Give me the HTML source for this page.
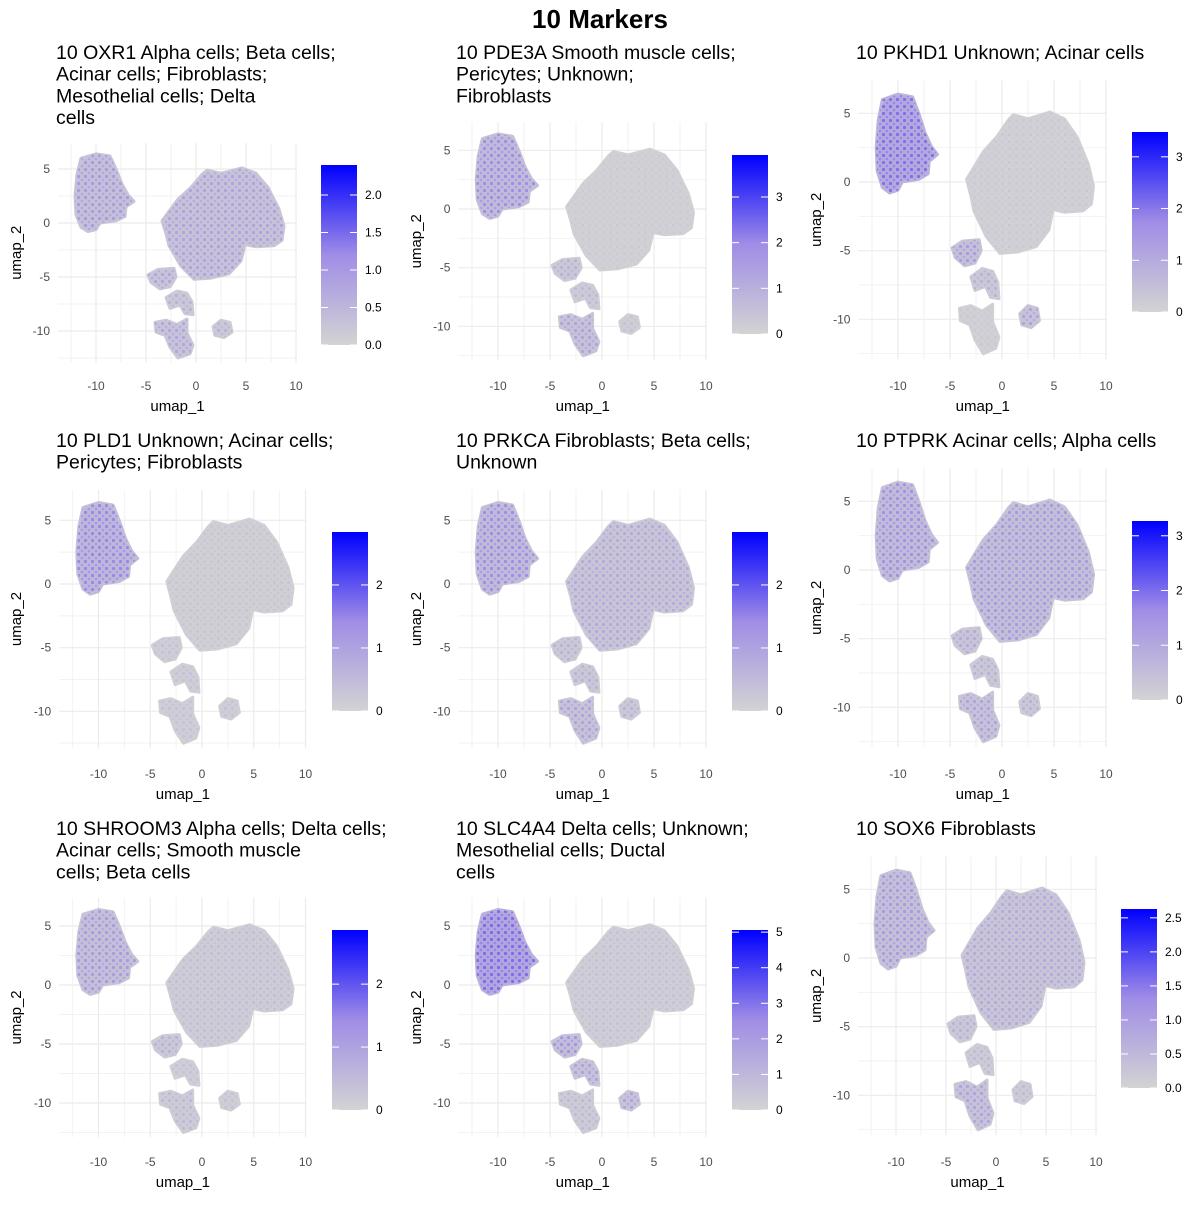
<!DOCTYPE html>
<html><head><meta charset="utf-8"><style>
body{margin:0;background:#fff}
text{font-family:"Liberation Sans",sans-serif}
</style></head><body>
<svg id="chart" width="1200" height="1200" viewBox="0 0 1200 1200" xmlns="http://www.w3.org/2000/svg">
<defs>
<linearGradient id="lg" x1="0" y1="1" x2="0" y2="0">
<stop offset="0" stop-color="#d3d3d3"/><stop offset="0.5" stop-color="#a08de6"/><stop offset="1" stop-color="#0000ff"/>
</linearGradient>
<pattern id="dots" width="7" height="7" patternUnits="userSpaceOnUse">
<circle cx="1.5" cy="1.5" r="1.6" fill="#7a60ee"/><circle cx="5" cy="5" r="1.3" fill="#9480e8"/>
</pattern>
</defs>
<text x="600" y="28" text-anchor="middle" font-size="26" font-weight="bold">10 Markers</text>
</svg>
<script>
// ---- data ----
const titles = [
 ["10 OXR1 Alpha cells; Beta cells;","Acinar cells; Fibroblasts;","Mesothelial cells; Delta","cells"],
 ["10 PDE3A Smooth muscle cells;","Pericytes; Unknown;","Fibroblasts"],
 ["10 PKHD1 Unknown; Acinar cells"],
 ["10 PLD1 Unknown; Acinar cells;","Pericytes; Fibroblasts"],
 ["10 PRKCA Fibroblasts; Beta cells;","Unknown"],
 ["10 PTPRK Acinar cells; Alpha cells"],
 ["10 SHROOM3 Alpha cells; Delta cells;","Acinar cells; Smooth muscle","cells; Beta cells"],
 ["10 SLC4A4 Delta cells; Unknown;","Mesothelial cells; Ductal","cells"],
 ["10 SOX6 Fibroblasts"]
];
const clusterNames = ["top-left","main","small-a","small-b","small-c","small-d"];
// expression (0..1 of colour scale) per panel per cluster
const expr = [
 [0.35,0.30,0.28,0.2,0.28,0.2],
 [0.45,0.05,0.2,0.15,0.3,0.1],
 [0.75,0.06,0.35,0.2,0.06,0.3],
 [0.5,0.08,0.1,0.1,0.1,0.1],
 [0.45,0.25,0.2,0.2,0.3,0.2],
 [0.42,0.36,0.25,0.2,0.3,0.2],
 [0.35,0.12,0.2,0.1,0.15,0.1],
 [0.8,0.1,0.4,0.3,0.15,0.3],
 [0.35,0.25,0.2,0.15,0.3,0.15]
];
const legMax = [2.4,3.92,3.48,2.84,2.84,3.27,2.86,5.06,2.63];
const legTicks = [[0,0.5,1,1.5,2],[0,1,2,3],[0,1,2,3],[0,1,2],[0,1,2],[0,1,2,3],[0,1,2],[0,1,2,3,4,5],[0,0.5,1,1.5,2,2.5]];
const legDec = [1,0,0,0,0,0,0,0,1];
const xTicks = [-10,-5,0,5,10];
const yTicks = [-10,-5,0,5];
// cluster outlines in UMAP coordinates
const topLeft = [[-11.5,6.0],[-10,6.4],[-8.6,6.2],[-8.0,5.0],[-7.4,3.6],[-6.8,2.6],[-6.2,2.0],[-7.0,1.5],[-7.1,0.6],[-8.0,0.2],[-9.6,0.0],[-10.0,-0.6],[-10.8,-0.8],[-11.5,-0.4],[-12.0,0.8],[-12.1,2.5],[-11.9,4.5]];
const mainC = [[-3.4,0.2],[-1.8,2.2],[-0.5,3.3],[0.6,4.5],[1.1,4.9],[2.5,4.6],[4.6,5.1],[6.0,4.6],[7.2,3.3],[8.3,1.3],[8.8,-0.3],[8.6,-1.6],[7.8,-2.1],[6.0,-2.2],[4.9,-2.0],[4.5,-3.5],[3.3,-4.7],[1.5,-5.1],[-0.2,-5.2],[-1.5,-4.0],[-2.7,-2.1],[-3.0,-1.0]];
const smallA = [[-4.8,-4.8],[-3.8,-4.3],[-2.2,-4.2],[-2.0,-5.0],[-2.6,-5.9],[-3.6,-6.1],[-4.5,-5.5]];
const smallB = [[-3.0,-6.9],[-1.9,-6.3],[-0.9,-6.5],[-0.4,-7.3],[-0.3,-8.5],[-1.1,-8.4],[-1.6,-7.6],[-2.6,-7.9]];
const smallC = [[-4.1,-9.2],[-3.0,-9.0],[-1.9,-9.4],[-0.9,-8.9],[-0.9,-10.2],[-0.3,-11.3],[-0.6,-12.1],[-1.8,-12.5],[-2.6,-11.5],[-3.1,-10.4],[-4.0,-10.1]];
const smallD = [[1.7,-9.6],[2.5,-9.0],[3.4,-9.2],[3.6,-10.1],[2.8,-10.6],[1.9,-10.4]];
const shapes = [topLeft,mainC,smallA,smallB,smallC,smallD];

// ---- layout (pixel positions, not data) ----
const layout = [
 {tx:56,ty:59,xm:96,x0:196,xp:296,y5:169,y0:223,ym:331,leg:[321,165,357,345],yl:16,lb:390},
 {tx:456,ty:59,xm:498,x0:602,xp:706,y5:151,y0:209,ym:327,leg:[732,155,768,334],yl:416,lb:390},
 {tx:856,ty:59,xm:898,x0:1002,xp:1106,y5:113,y0:182,ym:319,leg:[1132,132,1168,312],yl:816,lb:390},
 {tx:56,ty:447,xm:99,x0:202,xp:306,y5:520,y0:584,ym:711,leg:[332,532,368,711],yl:16,lb:778},
 {tx:456,ty:447,xm:498,x0:602,xp:706,y5:520,y0:584,ym:711,leg:[732,532,768,711],yl:416,lb:778},
 {tx:856,ty:447,xm:898,x0:1002,xp:1106,y5:501,y0:570,ym:707,leg:[1132,521,1168,700],yl:816,lb:778},
 {tx:56,ty:835,xm:99,x0:202,xp:306,y5:926,y0:985,ym:1103,leg:[332,930,368,1110],yl:16,lb:1166},
 {tx:456,ty:835,xm:498,x0:602,xp:706,y5:926,y0:985,ym:1103,leg:[732,930,768,1110],yl:416,lb:1166},
 {tx:856,ty:835,xm:896,x0:996,xp:1096,y5:889,y0:958,ym:1095,leg:[1121,909,1157,1088],yl:816,lb:1166}
];
const svg = document.getElementById('chart');
const NS = 'http://www.w3.org/2000/svg';
function mk(tag, attrs, parent){const e=document.createElementNS(NS,tag);for(const k in attrs)e.setAttribute(k,attrs[k]);(parent||svg).appendChild(e);return e;}
function lerp(a,b,t){return a+(b-a)*t;}
function col(t){
  const c0=[211,211,211],c1=[160,141,230],c2=[0,0,255];let r;
  if(t<0.5){const u=t/0.5;r=c0.map((v,i)=>lerp(v,c1[i],u));}else{const u=(t-0.5)/0.5;r=c1.map((v,i)=>lerp(v,c2[i],u));}
  return 'rgb('+r.map(Math.round).join(',')+')';
}
layout.forEach((L,p)=>{
  const g = mk('g',{});
  
  
  const kx=(L.xp-L.xm)/20, ky=(L.ym-L.y5)/15;
  const sx=u=>L.x0+u*kx, sy=v=>L.y0-v*ky;
  const X0=sx(-13.8),X1=sx(10.1),Y0=sy(7.4),Y1=sy(-12.9);
  const t = mk('text',{x:L.tx,y:L.ty,'font-size':19.5,fill:'#000'},g);
  
  
  titles[p].forEach((s,i)=>{const ts=mk('tspan',{x:L.tx,dy:i?21.7:0},t);ts.textContent=s;});
  for(let u=-12.5;u<=10;u+=5){mk('line',{x1:sx(u),x2:sx(u),y1:Y0,y2:Y1,stroke:'#f2f2f2','stroke-width':1},g);}
  for(let v=-12.5;v<=7.5;v+=5){if(sy(v)>=Y0&&sy(v)<=Y1)mk('line',{x1:X0,x2:X1,y1:sy(v),y2:sy(v),stroke:'#f2f2f2','stroke-width':1},g);}
  xTicks.forEach(u=>{
    mk('line',{x1:sx(u),x2:sx(u),y1:Y0,y2:Y1,stroke:'#ebebeb','stroke-width':1.2},g);
    const tl=mk('text',{x:sx(u),y:L.lb,'font-size':12,fill:'#4d4d4d','text-anchor':'middle'},g);
    
    
    tl.textContent=u;
  });
  yTicks.forEach(v=>{
    mk('line',{x1:X0,x2:X1,y1:sy(v),y2:sy(v),stroke:'#ebebeb','stroke-width':1.2},g);
    const tl=mk('text',{x:X0-8,y:sy(v)+4,'font-size':12,fill:'#4d4d4d','text-anchor':'end'},g);
    
    
    tl.textContent=v;
  });
  shapes.forEach((sh,ci)=>{
    const pts=sh.map(q=>sx(q[0]).toFixed(1)+','+sy(q[1]).toFixed(1)).join(' ');
    const e=expr[p][ci];
    const poly=mk('polygon',{points:pts,fill:col(e*0.4),stroke:col(e*0.3),'stroke-width':3,'stroke-linejoin':'round'},g);
    
    
    const ov=mk('polygon',{points:pts,fill:'url(#dots)',opacity:Math.min(1,e*1.1)},g);
    
    
  });
  const xt=mk('text',{x:(sx(-13.8)+sx(10.1))/2,y:L.lb+21,'font-size':15,'text-anchor':'middle'},g);
  
  
  xt.textContent='umap_1';
  const ym=(Y0+Y1)/2;
  const yt=mk('text',{x:L.yl+5,y:ym,'font-size':15,'text-anchor':'middle',transform:'rotate(-90 '+(L.yl+5)+' '+ym+')'},g);
  
  
  yt.textContent='umap_2';
  const [lx0,ly0,lx1,ly1]=L.leg;
  const bar=mk('rect',{x:lx0,y:ly0,width:lx1-lx0,height:ly1-ly0,fill:'url(#lg)'},g);
  
  
  const per=(ly1-ly0)/legMax[p];
  legTicks[p].forEach(v=>{
    const yy=ly1-v*per;
    mk('line',{x1:lx0,x2:lx0+7,y1:yy,y2:yy,stroke:'#fff','stroke-width':1},g);
    mk('line',{x1:lx1-7,x2:lx1,y1:yy,y2:yy,stroke:'#fff','stroke-width':1},g);
    const tl=mk('text',{x:lx1+8,y:yy+4,'font-size':12,fill:'#000'},g);
    
    
    tl.textContent=v.toFixed(legDec[p]);
  });
});
</script>
</body></html>
